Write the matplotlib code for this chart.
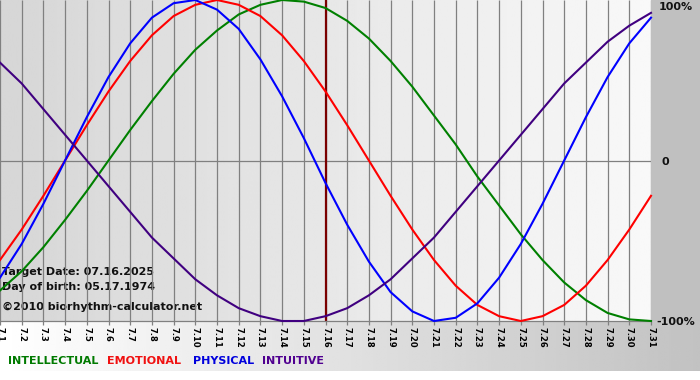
import matplotlib
matplotlib.use("Agg")
import matplotlib.pyplot as plt
import numpy as np
from matplotlib.patches import Rectangle

# days of July 2025 shown on the x axis
day_labels = [f"7.{d}" for d in range(1, 32)]

# rhythm values per day (-1 .. 1)
intellectual = [-0.81, -0.69, -0.54, -0.37, -0.19, 0.00, 0.19, 0.37, 0.54, 0.69, 0.81,
                0.91, 0.97, 1.00, 0.99, 0.95, 0.87, 0.76, 0.62, 0.46, 0.28, 0.10,
                -0.10, -0.28, -0.46, -0.62, -0.76, -0.87, -0.95, -0.99, -1.00]
emotional = [-0.62, -0.43, -0.22, 0.00, 0.22, 0.43, 0.62, 0.78, 0.90, 0.97, 1.00,
             0.97, 0.90, 0.78, 0.62, 0.43, 0.22, 0.00, -0.22, -0.43, -0.62, -0.78,
             -0.90, -0.97, -1.00, -0.97, -0.90, -0.78, -0.62, -0.43, -0.22]
physical = [-0.73, -0.52, -0.27, 0.00, 0.27, 0.52, 0.73, 0.89, 0.98, 1.00, 0.94,
            0.82, 0.63, 0.40, 0.14, -0.14, -0.40, -0.63, -0.82, -0.94, -1.00, -0.98,
            -0.89, -0.73, -0.52, -0.27, 0.00, 0.27, 0.52, 0.73, 0.89]
intuitive = [0.61, 0.48, 0.32, 0.16, 0.00, -0.16, -0.32, -0.48, -0.61, -0.74, -0.84,
             -0.92, -0.97, -1.00, -1.00, -0.97, -0.92, -0.84, -0.74, -0.61, -0.48, -0.32,
             -0.16, 0.00, 0.16, 0.32, 0.48, 0.61, 0.74, 0.84, 0.92]

target_index = 15  # 7.16
target_text = "Target Date: 07.16.2025"
birth_text = "Day of birth: 05.17.1974"
credit_text = "\u00a92010 biorhythm-calculator.net"

series = [
    ("INTELLECTUAL", intellectual, "#008000", "#007a00"),
    ("EMOTIONAL", emotional, "#ff0000", "#f01010"),
    ("PHYSICAL", physical, "#0000ff", "#0000dd"),
    ("INTUITIVE", intuitive, "#400080", "#500090"),
]

W, H = 700, 380
PL, PR, PT, PB = 0, 651, 0, 321  # plot box in pixels

fig = plt.figure(figsize=(W / 100, H / 100), dpi=100)
fig.patch.set_facecolor("white")

# background layer in pixel coords
bg = fig.add_axes([0, 0, 1, 1])
bg.set_xlim(0, W)
bg.set_ylim(H, 0)
bg.axis("off")

grad = np.linspace(0.84, 0.975, 256).reshape(1, -1)
bg.imshow(grad, cmap="gray", vmin=0, vmax=1, aspect="auto",
          extent=(PL, PR, PB, PT), interpolation="bilinear")
bg.add_patch(Rectangle((PR, 0), W - PR, PB, color="#c0c0c0", lw=0))
grad2 = np.linspace(1.0, 0.76, 256).reshape(1, -1)
bg.imshow(grad2, cmap="gray", vmin=0, vmax=1, aspect="auto",
          extent=(0, W, 371, PB), interpolation="bilinear")
bg.set_xlim(0, W)
bg.set_ylim(H, 0)

# plot axes
ax = fig.add_axes([PL / W, (H - PB) / H, (PR - PL) / W, (PB - PT) / H])
ax.patch.set_alpha(0)
x = np.arange(len(day_labels))
ax.set_xlim(0, len(day_labels) - 1)
ax.set_ylim(-1, 1)

ax.vlines(x, -1, 1, color="#808080", lw=0.9, zorder=1)
ax.axhline(0, color="#808080", lw=0.9, zorder=1)
ax.axvline(x[target_index], color="#7a0000", lw=1.6, zorder=2)

for name, vals, col, _ in series:
    ax.plot(x, vals, color=col, lw=1.5, clip_on=False, zorder=3,
            solid_joinstyle="round")

for s in ["top", "left", "right"]:
    ax.spines[s].set_visible(False)
ax.spines["bottom"].set_color("#808080")
ax.spines["bottom"].set_linewidth(0.9)
ax.set_yticks([])
ax.set_xticks(x)
ax.set_xticklabels(day_labels, rotation=270, fontsize=6, fontweight="bold",
                   va="top", ha="center")
ax.tick_params(axis="x", length=3, width=0.9, color="#808080", pad=1)

# right-side percentage labels
for ypx, lab, xpx in [(7, "100%", 659), (162, "0", 662), (322, "-100%", 656)]:
    bg.text(xpx, ypx, lab, fontsize=8, fontweight="bold", color="#111111",
            ha="left", va="center")

# info text
bg.text(2, 272, target_text, fontsize=8, fontweight="bold", color="#111111", va="center")
bg.text(2, 287, birth_text, fontsize=8, fontweight="bold", color="#111111", va="center")
bg.text(2, 307, credit_text, fontsize=8, fontweight="bold", color="#111111", va="center")

# legend row
for (name, _, _, tcol), xpx in zip(series, [8, 107, 193, 262]):
    bg.text(xpx, 361, name, fontsize=8, fontweight="bold", color=tcol, va="center")

fig.savefig("out.png", dpi=100)
